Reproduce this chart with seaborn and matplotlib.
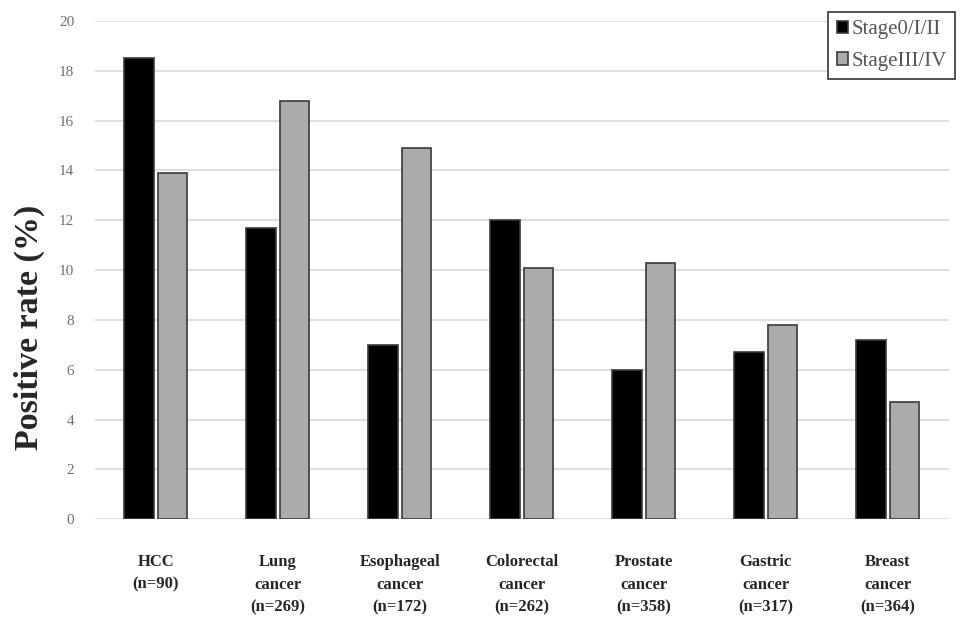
import pandas as pd
import numpy as np
import matplotlib
matplotlib.use('Agg')
import matplotlib.pyplot as plt
import seaborn as sns

# data
categories = ['HCC\n(n=90)', 'Lung\ncancer\n(n=269)', 'Esophageal\ncancer\n(n=172)',
              'Colorectal\ncancer\n(n=262)', 'Prostate\ncancer\n(n=358)',
              'Gastric\ncancer\n(n=317)', 'Breast\ncancer\n(n=364)']
stage_early = [18.5, 11.7, 7.0, 12.0, 6.0, 6.7, 7.2]
stage_late = [13.9, 16.8, 14.9, 10.1, 10.3, 7.8, 4.7]
series_names = ['Stage0/I/II', 'StageIII/IV']

df = pd.DataFrame({
    'cat': categories * 2,
    'rate': stage_early + stage_late,
    'stage': [series_names[0]] * len(categories) + [series_names[1]] * len(categories),
})

sns.set_theme(style='white')
plt.rcParams['font.family'] = ['Liberation Serif', 'DejaVu Serif']

fig = plt.figure(figsize=(9.69, 6.34), dpi=100)
ax = fig.add_axes([0.098, 0.181, 0.881, 0.786])

sns.barplot(data=df, x='cat', y='rate', hue='stage', palette=['#000000', '#ababab'],
            width=0.55, gap=0.12, edgecolor='#3a3a3a', linewidth=1.2, ax=ax, zorder=3)

ax.set_ylim(0, 20)
ax.set_yticks(np.arange(0, 21, 2))
ax.set_xlim(-0.5, len(categories) - 0.5)
ax.yaxis.grid(True, color='#d9d9d9', linewidth=1.2, zorder=0)
ax.set_axisbelow(True)
for s in ax.spines.values():
    s.set_visible(False)

ax.set_xlabel('')
ax.set_ylabel('Positive rate (%)', fontsize=24.5, fontweight='bold')
ax.yaxis.set_label_coords(-0.058, 0.385)
ax.tick_params(axis='y', labelsize=11, colors='#707070', length=0, pad=15)
ax.tick_params(axis='x', labelsize=12, length=0, pad=25)
for lbl in ax.get_xticklabels():
    lbl.set_fontweight('bold')
    lbl.set_verticalalignment('top')
    lbl.set_linespacing(1.55)

leg = ax.legend(loc='upper right', bbox_to_anchor=(1.008, 1.018), fontsize=15,
                frameon=True, fancybox=False, edgecolor='#444444', framealpha=1,
                handlelength=0.53, handleheight=0.53, handletextpad=0.2,
                labelspacing=0.6, borderpad=0.4, borderaxespad=0)
leg.get_frame().set_linewidth(1.3)
for t in leg.get_texts():
    t.set_color('#555555')

fig.savefig('out.png', dpi=100)
